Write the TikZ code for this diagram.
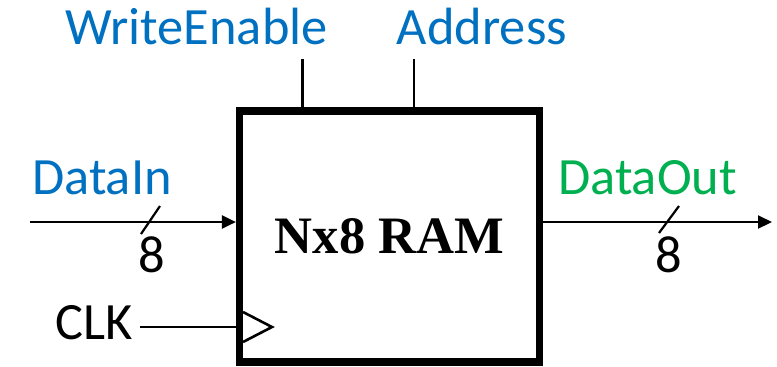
\documentclass[tikz,border=0pt]{standalone}
\usepackage{fontspec}
\setmainfont{Carlito}
\newfontfamily\ramfont{Liberation Serif}
\usetikzlibrary{arrows.meta,positioning}
\definecolor{SigBlue}{HTML}{0070C0}
\definecolor{SigGreen}{HTML}{00B050}

\begin{document}
\begin{tikzpicture}[
    x=0.5pt,y=-0.5pt,
    lbl/.style={anchor=base,inner sep=0pt,font=\fontsize{26.2}{31}\selectfont},
    ramblock/.style={draw,line width=3.6pt,minimum width=150pt,minimum height=125.5pt,
                     inner sep=0pt,font=\fontsize{26.3}{31}\selectfont\ramfont\bfseries},
    wire/.style={line width=1.1pt},
    sig/.style={wire,-{Triangle[length=7pt,width=6.5pt]}},
    >=Stealth
  ]
  \useasboundingbox (0,0) rectangle (777,366);
  \node[ramblock] (ram) at (389.5,236.5) {Nx8 RAM};
  % control inputs on top
  \coordinate (we) at (302.5,59);
  \coordinate (addr) at (414,59);
  \draw[wire] (we) -- (we |- ram.north);
  \draw[wire] (addr) -- (addr |- ram.north);
  \node[lbl,text=SigBlue] (welbl) at (196.5,44) {WriteEnable};
  \node[lbl,text=SigBlue] (addrlbl) at (482,44) {Address};
  % data in / data out
  \coordinate (din) at (30,222);
  \coordinate (dout) at (772,222);
  \draw[sig] (din) -- (din -| ram.west);
  \draw[sig] (dout -| ram.east) -- (dout);
  \node[lbl,text=SigBlue] (dinlbl) at (102,194) {DataIn};
  \node[lbl,text=SigGreen] (doutlbl) at (647.5,194) {DataOut};
  \coordinate (busin) at (150.5,220);
  \coordinate (busout) at (669,219.5);
  \draw[wire] (busin) ++(-9.5,14) -- ++(19,-28);
  \draw[wire] (busout) ++(-10,13.5) -- ++(20,-27);
  \node[lbl] (winw) at (152,272) {8};
  \node[lbl] (woutw) at (669,272) {8};
  % clock
  \coordinate (clk) at (140,327);
  \draw[wire] (clk) -- (clk -| ram.west);
  \node[lbl] (clklbl) at (94,339) {CLK};
  \draw[line width=1.3pt] (243,312) -- (272,327) -- (243,342);
\end{tikzpicture}
\end{document}
